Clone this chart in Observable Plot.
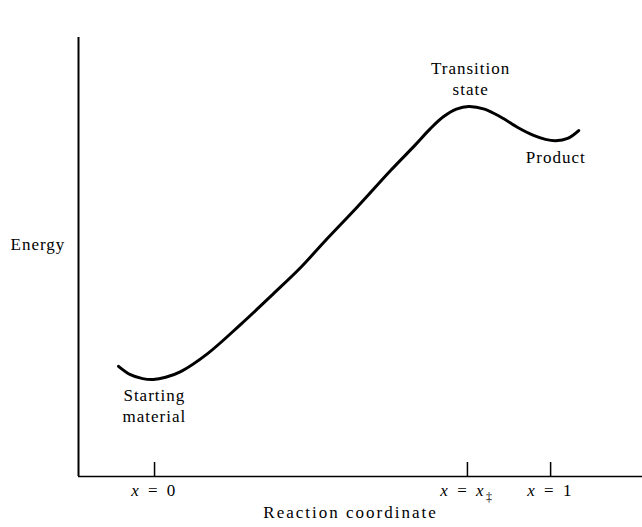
<!DOCTYPE html>
<html><head><meta charset="utf-8">
<script src="https://cdn.jsdelivr.net/npm/d3@7"></script>
<script src="https://cdn.jsdelivr.net/npm/@observablehq/plot@0.6"></script>
<style>body{margin:0;background:#fff}</style>
</head><body><div id="chart"></div>
<script>
// reaction coordinate (x) and energy (arbitrary units)
const coord  = [-0.091, -0.061, -0.030, -0.003, 0.028, 0.066, 0.134, 0.217, 0.301, 0.369, 0.427, 0.513, 0.596, 0.659, 0.697, 0.730, 0.762, 0.793, 0.833, 0.874, 0.917, 0.957, 0.987, 1.013, 1.043, 1.071];
const energy = [25.1, 23.2, 22.3, 22.1, 22.6, 23.9, 28.0, 34.6, 41.7, 47.6, 53.3, 61.5, 69.7, 75.6, 79.3, 82.0, 83.7, 84.3, 83.7, 81.9, 79.5, 77.7, 76.8, 76.5, 77.0, 78.8];
const tickValues = [0, 0.79, 1];
const tickLabels = ["x = 0", "x = x‡", "x = 1"];
const stateNames = ["Starting\nmaterial", "Transition\nstate", "Product"];
const xLabel = "Reaction coordinate";
const yLabel = "Energy";
const xDomain = [-0.192, 1.232];
const yDomain = [0, 100];

const curve = coord.map((x, i) => ({x, e: energy[i]}));
const iTS = d3.maxIndex(curve, d => d.e);
const iStart = d3.minIndex(curve.slice(0, iTS), d => d.e);
const iProd = iTS + d3.minIndex(curve.slice(iTS), d => d.e);
const ticks = tickValues.map((v, i) => ({v, label: tickLabels[i]}));

const textOpts = {x: "x", y: "e", fill: "black", lineHeight: 1.24, lineAnchor: "bottom", textAnchor: "middle"};

const svg = Plot.plot({
  width: 642, height: 527,
  marginLeft: 78, marginRight: 0, marginTop: 37, marginBottom: 51,
  x: {domain: xDomain, axis: null},
  y: {domain: yDomain, axis: null},
  style: {fontFamily: "'Liberation Serif', 'Times New Roman', serif", fontSize: "17px", letterSpacing: "1px", color: "black", background: "white"},
  marks: [
    Plot.ruleY([yDomain[0]], {stroke: "black", strokeWidth: 1.5}),
    Plot.ruleX([xDomain[0]], {stroke: "black", strokeWidth: 2}),
    Plot.axisX(tickValues, {anchor: "bottom", tickSize: -14, strokeWidth: 1.5, stroke: "black", tickFormat: () => ""}),
    Plot.line(curve, {x: "x", y: "e", curve: "catmull-rom", stroke: "black", strokeWidth: 3}),
    Plot.text([curve[iStart]], {...textOpts, text: () => stateNames[0], dx: 1, dy: 43}),
    Plot.text([curve[iTS]], {...textOpts, text: () => stateNames[1], dx: 2, dy: -11}),
    Plot.text([curve[iProd]], {...textOpts, text: () => stateNames[2], dx: 0, dy: 22}),
    Plot.text(ticks, {x: "v", text: "label", frameAnchor: "bottom", lineAnchor: "middle", dy: 14, fill: "black"}),
    Plot.text([xLabel], {frameAnchor: "bottom", lineAnchor: "middle", dx: -10, dy: 36, fill: "black"}),
    Plot.text([yLabel], {frameAnchor: "left", textAnchor: "start", lineAnchor: "middle", dx: -68, dy: -12, fill: "black"})
  ]
});

// style tick labels: italic x, subscript double dagger
d3.select(svg).selectAll("text").each(function() {
  const t = this.textContent;
  const sel = d3.select(this);
  if (t === xLabel) sel.style("letter-spacing", "2px");
  if (!tickLabels.includes(t)) return;
  sel.text(null).style("letter-spacing", "2.5px");
  const [lhs, rhs] = t.split(" = ");
  sel.append("tspan").attr("font-style", "italic").text(lhs);
  sel.append("tspan").text(" = ");
  if (rhs.endsWith("‡")) {
    sel.append("tspan").attr("font-style", "italic").text(rhs.slice(0, -1));
    sel.append("tspan").attr("font-size", "12px").attr("dy", "0.45em").text("‡");
  } else {
    sel.append("tspan").text(rhs);
  }
});

document.getElementById("chart").appendChild(svg);
</script>
</body></html>
